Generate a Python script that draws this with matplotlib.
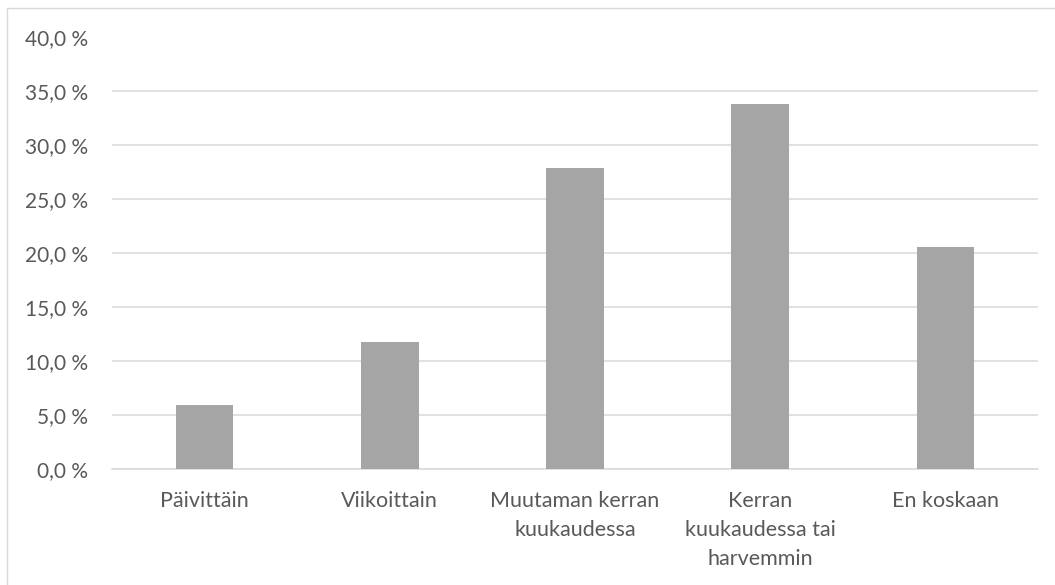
import matplotlib.pyplot as plt
from matplotlib.patches import Rectangle
from matplotlib.ticker import FuncFormatter

plt.rcParams['font.family'] = ['Lato', 'DejaVu Sans']
plt.rcParams['font.size'] = 15

categories = ['Päivittäin', 'Viikoittain', 'Muutaman kerran\nkuukaudessa',
              'Kerran\nkuukaudessa tai\nharvemmin', 'En koskaan']
values = [5.9, 11.8, 27.9, 33.8, 20.6]
yticks = [0, 5, 10, 15, 20, 25, 30, 35, 40]

W, H = 1055, 585
fig = plt.figure(figsize=(W / 100, H / 100), dpi=100)
ax = fig.add_axes([112 / W, 1 - 469 / H, (1038 - 112) / W, (469 - 37.5) / H])

# light frame around the chart area
fig.patches.append(Rectangle((7 / W, -0.1), 1.2, 1 - 8 / H + 0.1, transform=fig.transFigure,
                             fill=False, edgecolor='#d9d9d9', linewidth=1.0, zorder=0))

x = range(len(categories))
ax.bar(x, values, width=0.31, color='#a5a5a5', zorder=3)

ax.set_xlim(-0.5, len(categories) - 0.5)
ax.set_ylim(0, 40)
ax.set_yticks(yticks)
ax.yaxis.set_major_formatter(FuncFormatter(lambda v, p: f'{v:.1f} %'.replace('.', ',')))
ax.set_xticks(list(x))
ax.set_xticklabels(categories, linespacing=1.55, fontsize=15.5)

ax.grid(axis='y', color='#d9d9d9', linewidth=1.1, zorder=0)
for s in ['top', 'right', 'left']:
    ax.spines[s].set_visible(False)
ax.spines['bottom'].set_color('#d9d9d9')
ax.spines['bottom'].set_linewidth(1.1)
ax.tick_params(axis='both', length=0, colors='#595959')
ax.tick_params(axis='y', labelsize=15, pad=17)
ax.tick_params(axis='x', pad=16)

fig.savefig('out.png', dpi=100)
